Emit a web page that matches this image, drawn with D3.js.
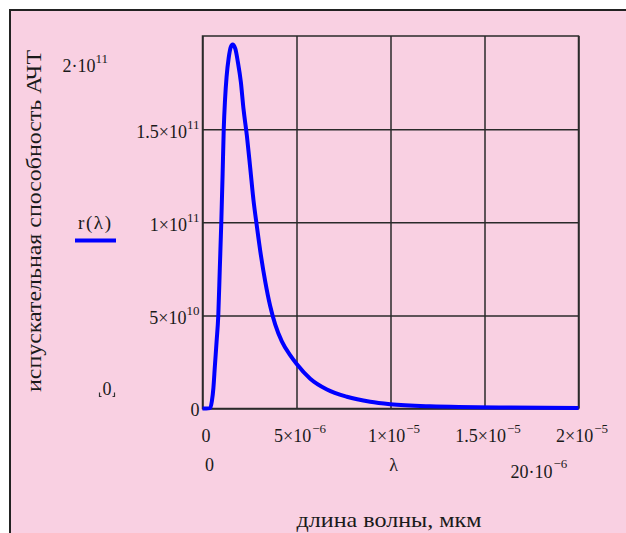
<!DOCTYPE html>
<html>
<head>
<meta charset="utf-8">
<script src="https://cdn.jsdelivr.net/npm/d3@7"></script>
<style>
  html, body { margin: 0; padding: 0; background: #ffffff; }
  svg { display: block; }
  text { font-family: "Liberation Serif", "Times New Roman", serif; fill: #1a1a1a; }
</style>
</head>
<body>
<svg id="chart" width="626" height="533"></svg>
<script>
// ---- data ----
const lambdaM = [0, 0.2e-6, 0.41e-6, 0.50e-6, 0.58e-6, 0.66e-6, 0.75e-6, 0.84e-6, 0.92e-6, 1.00e-6,
  1.07e-6, 1.13e-6, 1.20e-6, 1.28e-6, 1.39e-6, 1.51e-6, 1.60e-6, 1.74e-6, 1.88e-6, 2.04e-6,
  2.18e-6, 2.36e-6, 2.54e-6, 2.71e-6, 2.89e-6, 3.11e-6, 3.34e-6, 3.60e-6, 3.87e-6, 4.22e-6,
  4.67e-6, 5.00e-6, 5.73e-6, 6.62e-6, 7.68e-6, 8.92e-6, 9.98e-6, 12.1e-6, 16.4e-6, 20e-6];
const rValues = [0, 0, 0.02e10, 0.4e10, 1.1e10, 2.3e10, 3.6e10, 5.0e10, 7.5e10, 10.0e10,
  12.6e10, 15.0e10, 16.6e10, 17.8e10, 18.8e10, 19.42e10, 19.54e10, 19.33e10, 18.61e10, 17.53e10,
  16.09e10, 14.65e10, 12.9e10, 11.2e10, 9.8e10, 8.2e10, 6.8e10, 5.5e10, 4.5e10, 3.6e10,
  2.85e10, 2.4e10, 1.6e10, 1.02e10, 0.63e10, 0.36e10, 0.23e10, 0.12e10, 0.05e10, 0.03e10];

const xTickValues = [0, 5e-6, 1e-5, 1.5e-5, 2e-5];
const xTickMant = ["0", "5×10", "1×10", "1.5×10", "2×10"];
const xTickExp = ["", "−6", "−5", "−5", "−5"];

const yTickValues = [0, 5e10, 1e11, 1.5e11];
const yTickMant = ["0", "5×10", "1×10", "1.5×10"];
const yTickExp = ["", "10", "11", "11"];

const xDomain = [0, 20e-6];
const yDomain = [0, 2e11];

const yAxisTitle = "испускательная способность АЧТ";
const xAxisTitle = "длина волны, мкм";
const legendLabel = "r(λ)";
const xVarLabel = "λ";

// ---- drawing ----
(function () {
const svg = d3.select("#chart");
const pink = "#f9d0e2";
const gridColor = "#2a2a2a";

svg.append("rect").attr("x", 10).attr("y", 10).attr("width", 640).attr("height", 540)
  .attr("fill", pink).attr("stroke", "#222").attr("stroke-width", 2);

const pL = 202.5, pR = 578.5, pT = 36, pB = 408.5;
const x = d3.scaleLinear().domain(xDomain).range([pL, pR]);
const y = d3.scaleLinear().domain(yDomain).range([pB, pT]);

// grid via axes
const gx = svg.append("g").attr("transform", `translate(0,${pB})`)
  .call(d3.axisBottom(x).tickValues(xTickValues).tickSize(-(pB - pT)).tickFormat(""));
const gy = svg.append("g").attr("transform", `translate(${pL},0)`)
  .call(d3.axisLeft(y).tickValues(yTickValues).tickSize(-(pR - pL)).tickFormat(""));
[gx, gy].forEach(g => {
  g.select(".domain").remove();
  g.selectAll("line").attr("stroke", gridColor).attr("stroke-width", 1.5);
});
svg.append("rect").attr("x", pL).attr("y", pT).attr("width", pR - pL).attr("height", pB - pT)
  .attr("fill", "none").attr("stroke", gridColor).attr("stroke-width", 1.5);

// curve
const pts = lambdaM.map((l, i) => [l, rValues[i]]);
svg.append("path").datum(pts)
  .attr("fill", "none").attr("stroke", "#0000ff").attr("stroke-width", 4)
  .attr("stroke-linejoin", "round")
  .attr("d", d3.line().x(d => x(d[0])).y(d => y(d[1])).curve(d3.curveMonotoneX));

// x tick labels
const xl = svg.append("g").selectAll("text").data(xTickValues).join("text")
  .attr("x", d => x(d) + 3.5).attr("y", 441.5).attr("text-anchor", "middle").attr("font-size", 18);
xl.append("tspan").text((d, i) => xTickMant[i]);
xl.append("tspan").attr("dy", -9).attr("font-size", 13).attr("dx", 1).text((d, i) => xTickExp[i]);

// y tick labels
const yl = svg.append("g").selectAll("text").data(yTickValues).join("text")
  .attr("x", 199.5).attr("y", d => y(d) + (d === 0 ? 7 : 8.5)).attr("text-anchor", "end").attr("font-size", 18);
yl.append("tspan").text((d, i) => yTickMant[i]);
yl.append("tspan").attr("dy", -8.5).attr("font-size", 13).text((d, i) => yTickExp[i]);

// Mathcad limit labels
const ymax = svg.append("text").attr("x", 62.5).attr("y", 72.3).attr("font-size", 18);
ymax.append("tspan").text("2·10");
ymax.append("tspan").attr("dy", -9).attr("font-size", 13).text("11");

svg.append("text").attr("x", 102.5).attr("y", 395).attr("font-size", 18).text("0");
svg.append("path").attr("d", "M99.5,392.5 V396.5 H101.5 M114.5,392.5 V396.5 H112.5")
  .attr("fill", "none").attr("stroke", "#333").attr("stroke-width", 1.2);

svg.append("text").attr("x", 205).attr("y", 470.7).attr("font-size", 18).text("0");
svg.append("text").attr("x", 393.5).attr("y", 470.7).attr("font-size", 18).attr("text-anchor", "middle").text(xVarLabel);
const xmax = svg.append("text").attr("x", 510.5).attr("y", 477.5).attr("font-size", 18);
xmax.append("tspan").text("20·10");
xmax.append("tspan").attr("dy", -10).attr("font-size", 13).attr("dx", 1).text("−6");

// legend
svg.append("text").attr("x", 78).attr("y", 229).attr("font-size", 19)
  .attr("textLength", 33).attr("lengthAdjust", "spacing").text(legendLabel);
svg.append("line").attr("x1", 75).attr("x2", 116).attr("y1", 240.5).attr("y2", 240.5)
  .attr("stroke", "#0000ff").attr("stroke-width", 4);

// axis titles
svg.append("text").attr("transform", "translate(40.5,221) rotate(-90)")
  .attr("text-anchor", "middle").attr("font-size", 21)
  .attr("textLength", 342).attr("lengthAdjust", "spacingAndGlyphs").text(yAxisTitle);
svg.append("text").attr("x", 389).attr("y", 527).attr("text-anchor", "middle")
  .attr("font-size", 21).attr("textLength", 185).attr("lengthAdjust", "spacingAndGlyphs").text(xAxisTitle);
})();
</script>
</body>
</html>
